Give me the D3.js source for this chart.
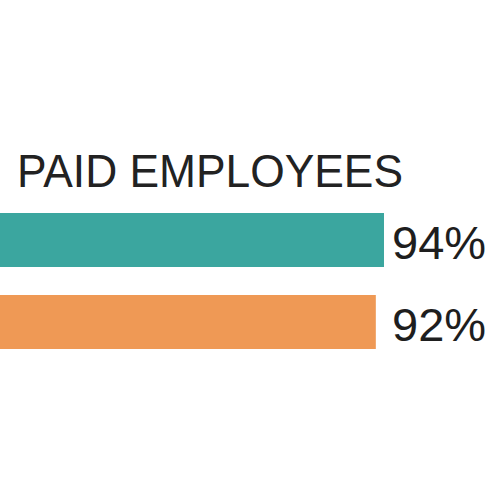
<html><head>
<style>
body { margin: 0; padding: 0; background: white; }
svg { display: block; }
</style>
</head>
<body>
<svg id="chart" width="500" height="500"></svg>
<script src="https://d3js.org/d3.v7.min.js"></script>
<script>
const title = "PAID EMPLOYEES";
const categories = ["a", "b"];
const values = [94, 92];
const colors = ["#3ba69f", "#ef9955"];

const svg = d3.select("#chart");

const x = d3.scaleLinear().domain([0, 100]).range([0, 408.5]);
// two bars, 54px tall with a 28px gap
const y = d3.scaleBand().domain(categories).range([213, 349]).paddingInner(28 / 82).paddingOuter(0);

svg.append("text")
  .attr("x", 17)
  .attr("y", 187)
  .attr("font-family", "Liberation Sans, Arial, sans-serif")
  .attr("font-size", 47)
  .attr("fill", "#222")
  .attr("textLength", 386)
  .attr("lengthAdjust", "spacingAndGlyphs")
  .text(title);

svg.selectAll("rect")
  .data(values)
  .join("rect")
  .attr("x", x(0))
  .attr("y", (d, i) => y(categories[i]))
  .attr("width", d => x(d))
  .attr("height", y.bandwidth())
  .attr("fill", (d, i) => colors[i]);

svg.selectAll("text.val")
  .data(values)
  .join("text")
  .attr("class", "val")
  .attr("x", 392)
  .attr("y", (d, i) => y(categories[i]) + y.bandwidth() / 2 + 19)
  .attr("font-family", "Liberation Sans, Arial, sans-serif")
  .attr("font-size", 47)
  .attr("fill", "#1e1e1e")
  .text(d => d + "%");
</script>
</body>
</html>
